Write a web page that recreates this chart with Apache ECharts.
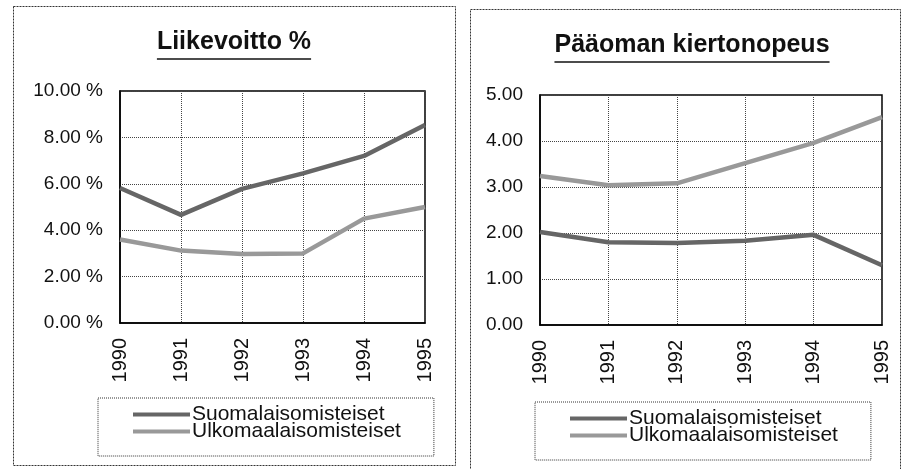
<!DOCTYPE html>
<html>
<head>
<meta charset="utf-8">
<script src="https://cdn.jsdelivr.net/npm/echarts@6/dist/echarts.min.js"></script>
<style>
  html, body { margin: 0; padding: 0; background: #fff; }
</style>
</head>
<body>
<div id="main" style="width: 903px; height: 469px;"></div>
<script>
// vuodet
var years = ['1990', '1991', '1992', '1993', '1994', '1995'];
// Liikevoitto %
var profitSuomi = [5.82, 4.66, 5.78, 6.45, 7.2, 8.53];
var profitUlko = [3.6, 3.12, 2.97, 3.0, 4.5, 5.0];
// Pääoman kiertonopeus
var turnSuomi = [2.02, 1.8, 1.78, 1.83, 1.96, 1.3];
var turnUlko = [3.24, 3.04, 3.08, 3.52, 3.96, 4.52];
var names = ['Suomalaisomisteiset', 'Ulkomaalaisomisteiset'];
var titles = ['Liikevoitto %', 'Pääoman kiertonopeus'];

var font = '"Liberation Sans", Arial, sans-serif';
var myChart = echarts.init(document.getElementById('main'));

function textWidth(txt, f) {
    var c = document.createElement('canvas').getContext('2d');
    c.font = f;
    return c.measureText(txt).width;
}
var titleFont = 'bold 25px "Liberation Sans", Arial, sans-serif';
var w0 = textWidth(titles[0], titleFont);
var w1 = textWidth(titles[1], titleFont);

function xAxisFor(i) {
    return {
        type: 'category',
        gridIndex: i,
        data: years,
        boundaryGap: false,
        axisLine: {lineStyle: {color: '#000', width: 1.5}},
        axisTick: {show: false},
        axisLabel: {rotate: 90, interval: 0, fontSize: 20, margin: 15, color: '#111', fontFamily: font},
        splitLine: {show: true, lineStyle: {type: 'dotted', color: '#444', width: 1}}
    };
}
function yAxisFor(i, max, interval, fmt) {
    return {
        type: 'value',
        gridIndex: i,
        min: 0,
        max: max,
        interval: interval,
        axisLine: {show: true, lineStyle: {color: '#000', width: 1.5}},
        axisTick: {show: false},
        axisLabel: {fontSize: 19, margin: 17, color: '#111', fontFamily: font, formatter: fmt},
        splitLine: {show: true, lineStyle: {type: 'dotted', color: '#444', width: 1}}
    };
}
function lineSeries(name, data, i, color) {
    return {
        name: name,
        type: 'line',
        xAxisIndex: i,
        yAxisIndex: i,
        data: data,
        symbol: 'none',
        lineStyle: {color: color, width: 4.5},
        itemStyle: {color: color}
    };
}
function legendFor(left, top, pad) {
    return {
        orient: 'vertical',
        left: left,
        top: top,
        data: names,
        icon: 'rect',
        itemWidth: 57,
        itemHeight: 4,
        itemGap: -4,
        padding: pad,
        borderColor: '#333',
        borderWidth: 1,
        borderType: 'dotted',
        textStyle: {fontSize: 21, lineHeight: 18, color: '#111', fontFamily: font, padding: [0, 0, 0, -3]}
    };
}

var option = {
    backgroundColor: '#fff',
    animation: false,
    textStyle: {fontFamily: font},
    title: [
        {text: titles[0], left: 234, top: 30, textAlign: 'center', padding: 0,
         textStyle: {fontSize: 25, fontWeight: 'bold', color: '#111', fontFamily: font}},
        {text: titles[1], left: 692, top: 33, textAlign: 'center', padding: 0,
         textStyle: {fontSize: 25, fontWeight: 'bold', color: '#111', fontFamily: font}}
    ],
    grid: [
        {left: 120, top: 91, width: 305, height: 232, show: true, borderColor: '#000', borderWidth: 1.5},
        {left: 540, top: 95, width: 342, height: 230, show: true, borderColor: '#000', borderWidth: 1.5}
    ],
    xAxis: [xAxisFor(0), xAxisFor(1)],
    yAxis: [
        yAxisFor(0, 10, 2, function (v) { return v.toFixed(2) + ' %'; }),
        yAxisFor(1, 5, 1, function (v) { return v.toFixed(2); })
    ],
    legend: [
        legendFor(98, 398, [6, 33, 14, 35]),
        legendFor(535, 402, [6, 33, 14, 35])
    ],
    series: [
        lineSeries(names[0], profitSuomi, 0, '#666'),
        lineSeries(names[1], profitUlko, 0, '#999'),
        lineSeries(names[0], turnSuomi, 1, '#666'),
        lineSeries(names[1], turnUlko, 1, '#999')
    ],
    graphic: [
        {type: 'rect', shape: {x: 13.5, y: 6.5, width: 442, height: 459},
         style: {fill: null, stroke: '#333', lineWidth: 1, lineDash: [2, 1]}},
        {type: 'rect', shape: {x: 470.5, y: 9.5, width: 430, height: 470},
         style: {fill: null, stroke: '#333', lineWidth: 1, lineDash: [2, 1]}},
        {type: 'line', shape: {x1: 234 - w0 / 2, y1: 59, x2: 234 + w0 / 2, y2: 59},
         style: {stroke: '#111', lineWidth: 1.5}},
        {type: 'line', shape: {x1: 692 - w1 / 2, y1: 62, x2: 692 + w1 / 2, y2: 62},
         style: {stroke: '#111', lineWidth: 1.5}}
    ]
};
myChart.setOption(option);
</script>
</body>
</html>
